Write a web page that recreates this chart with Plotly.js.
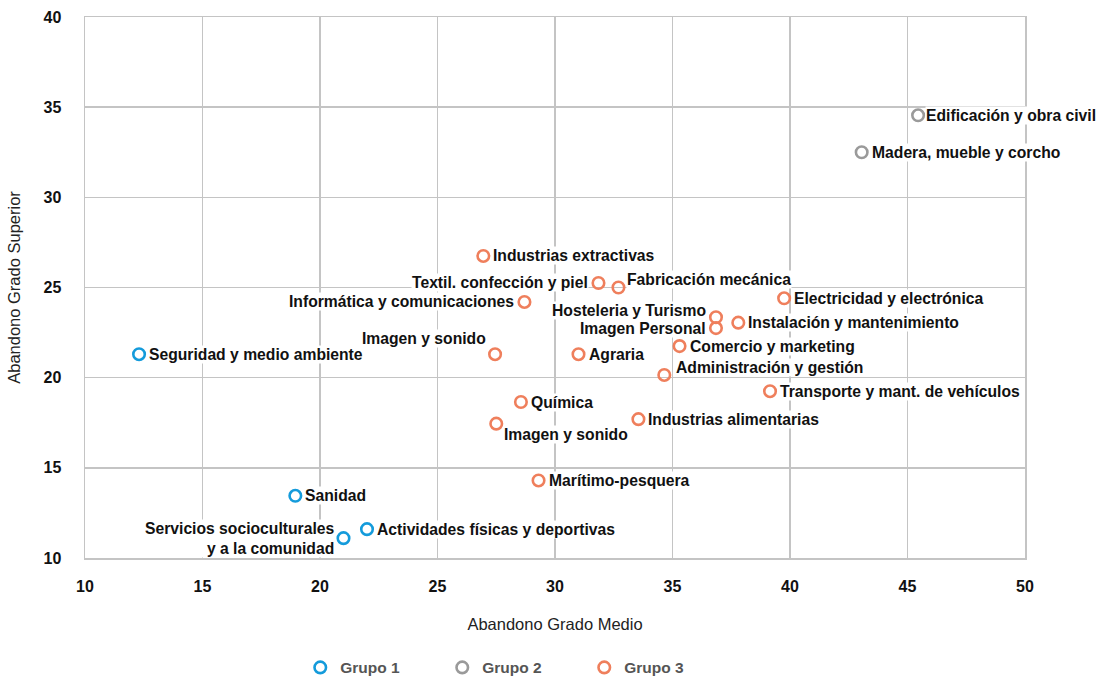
<!DOCTYPE html>
<html>
<head>
<meta charset="utf-8">
<script src="https://cdn.plot.ly/plotly-3.0.1.min.js"></script>
<style>html,body{margin:0;padding:0;background:#fff}#chart{width:1098px;height:677px}</style>
</head>
<body>
<div id="chart"></div>
<script>
// ---- data ----
var g1Labels = ["Seguridad y medio ambiente", "Sanidad", "Actividades físicas y deportivas", "Servicios socioculturales<br>y a la comunidad"];
var g1X = [12.3, 18.95, 22.0, 21.0];
var g1Y = [21.3, 13.45, 11.6, 11.1];

var g2Labels = ["Edificación y obra civil", "Madera, mueble y corcho"];
var g2X = [45.45, 43.05];
var g2Y = [34.55, 32.5];

var g3Labels = ["Industrias extractivas", "Textil. confección y piel", "Fabricación mecánica", "Informática y comunicaciones",
  "Electricidad y electrónica", "Hosteleria y Turismo", "Imagen Personal", "Instalación y mantenimiento",
  "Imagen y sonido", "Agraria", "Comercio y marketing", "Administración y gestión",
  "Transporte y mant. de vehículos", "Química", "Imagen y sonido", "Industrias alimentarias", "Marítimo-pesquera"];
var g3X = [26.95, 31.85, 32.7, 28.7, 39.75, 36.85, 36.85, 37.8, 27.45, 31.0, 35.3, 34.65, 39.15, 28.55, 27.5, 33.55, 29.3];
var g3Y = [26.75, 25.25, 25.0, 24.2, 24.4, 23.35, 22.75, 23.05, 21.3, 21.3, 21.75, 20.15, 19.25, 18.65, 17.45, 17.7, 14.3];

var groupNames = ["Grupo 1", "Grupo 2", "Grupo 3"];
var xTicks = [10, 15, 20, 25, 30, 35, 40, 45, 50];
var yTicks = [10, 15, 20, 25, 30, 35, 40];

// ---- label placement (style) ----
var place = {
  R: {xanchor: "left", xshift: 9, yshift: 0},
  R2: {xanchor: "left", xshift: 7, yshift: 0},
  L: {xanchor: "right", xshift: -9, yshift: 0},
  TR: {xanchor: "left", xshift: 8, yshift: 8},
  TR2: {xanchor: "left", xshift: 11, yshift: 7},
  BR: {xanchor: "left", xshift: 7, yshift: -11},
  TL: {xanchor: "right", xshift: -8, yshift: 16},
  HL: {xanchor: "right", xshift: -9, yshift: 7},
  PL: {xanchor: "right", xshift: -9, yshift: 0}
};
var g1Pos = ["R", "R", "R", "L"];
var g2Pos = ["R2", "R"];
var g3Pos = ["R", "L", "TR", "L", "R", "HL", "PL", "R", "TL", "R", "R", "TR2", "R", "R", "BR", "R", "R"];

var colors = ["#149bdb", "#9a9a9a", "#ef7f5c"];
var groups = [
  {x: g1X, y: g1Y, t: g1Labels, p: g1Pos},
  {x: g2X, y: g2Y, t: g2Labels, p: g2Pos},
  {x: g3X, y: g3Y, t: g3Labels, p: g3Pos}
];
var FONT = "Liberation Sans, Arial, sans-serif";

var traces = [];
var annotations = [];
groups.forEach(function (g, i) {
  traces.push({
    type: "scatter", mode: "markers", name: groupNames[i],
    x: g.x, y: g.y, text: g.t, hoverinfo: "text",
    cliponaxis: false,
    marker: {symbol: "circle-open", size: 11.5, color: colors[i], line: {width: 2.6, color: colors[i]}}
  });
  g.t.forEach(function (txt, j) {
    var pl = place[g.p[j]];
    annotations.push({
      x: g.x[j], y: g.y[j], xref: "x", yref: "y", text: txt, showarrow: false,
      xanchor: pl.xanchor, yanchor: "middle", xshift: pl.xshift, yshift: pl.yshift,
      align: pl.xanchor === "right" ? "right" : "left",
      bgcolor: "#ffffff", borderpad: 0,
      font: {family: FONT, size: 15.7, color: "#111", weight: "bold"}
    });
  });
});

var layout = {
  width: 1098, height: 677,
  margin: {l: 85, r: 73, t: 17, b: 119, autoexpand: false},
  paper_bgcolor: "#fff", plot_bgcolor: "#fff",
  font: {family: FONT, color: "#111"},
  showlegend: true,
  legend: {
    orientation: "h", x: 0.229, xanchor: "left", y: -0.203, yanchor: "middle",
    entrywidth: 97, entrywidthmode: "pixels", itemclick: false,
    font: {size: 15.5, color: "#555", weight: "bold"}
  },
  xaxis: {
    range: [10, 50], tickvals: xTicks, ticktext: xTicks.map(String),
    showgrid: true, gridcolor: "#c4c4c4", gridwidth: 1.5, zeroline: false,
    showline: true, linecolor: "#c4c4c4", linewidth: 1.5, mirror: true,
    ticks: "outside", ticklen: 13, tickcolor: "rgba(0,0,0,0)",
    tickfont: {size: 16, color: "#111", weight: "bold"},
    title: {text: "Abandono Grado Medio", standoff: 24, font: {size: 16.5, color: "#222"}}
  },
  yaxis: {
    range: [10, 40], tickvals: yTicks, ticktext: yTicks.map(String),
    showgrid: true, gridcolor: "#c4c4c4", gridwidth: 1.5, zeroline: false,
    showline: true, linecolor: "#c4c4c4", linewidth: 1.5, mirror: true,
    ticks: "outside", ticklen: 19, tickcolor: "rgba(0,0,0,0)",
    tickfont: {size: 16, color: "#111", weight: "bold"},
    title: {text: "Abandono Grado Superior", standoff: 18, font: {size: 16.5, color: "#222"}}
  },
  annotations: annotations
};

Plotly.newPlot("chart", traces, layout, {displayModeBar: false, staticPlot: true});
</script>
</body>
</html>
